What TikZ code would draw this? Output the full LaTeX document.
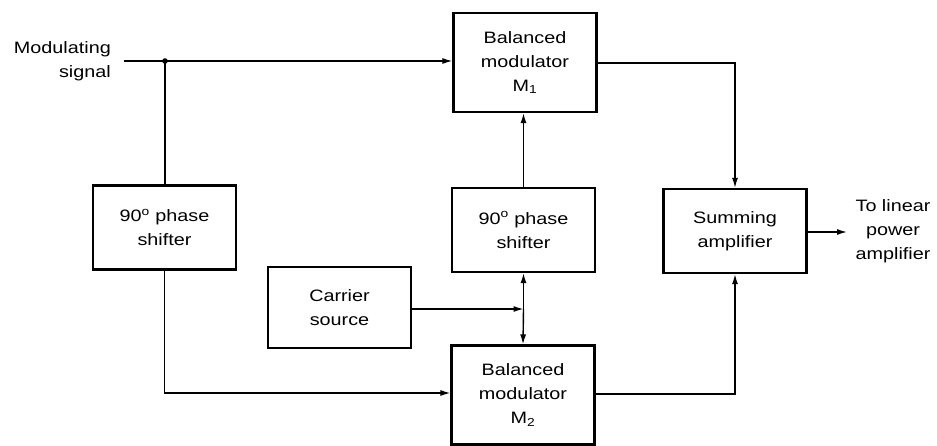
\documentclass[tikz,border=0pt]{standalone}
\usepackage{fontspec}
\setmainfont{Liberation Sans}[FakeStretch=1.2]
\usetikzlibrary{arrows.meta}
\begin{document}
\begin{tikzpicture}[x=1pt,y=-1pt,
  blk/.style={draw,line width=2.2pt,rectangle,minimum width=143pt,minimum height=84pt,inner sep=0pt,align=center,font=\fontsize{16.5}{24}\selectfont},
  lbl/.style={inner sep=0pt,font=\fontsize{16.5}{24}\selectfont},
  wire/.style={line width=1.4pt},
  arr/.style={wire,-{Latex[length=10pt,width=6pt]}}]
\useasboundingbox (0,0) rectangle (937,446);
\node[blk,minimum height=99pt] (bm1) at (525,62.5) {Balanced\\modulator\\M\textsubscript{1}};
\node[blk] (lps) at (164.5,227.5) {90\textsuperscript{o} phase\\shifter};
\node[blk,minimum height=81pt] (car) at (339.5,307.5) {Carrier\\source};
\node[blk] (mps) at (523.5,230) {90\textsuperscript{o} phase\\shifter};
\node[blk,minimum height=99pt] (bm2) at (523,395) {Balanced\\modulator\\M\textsubscript{2}};
\node[blk] (sum) at (735,231) {Summing\\amplifier};
\node[lbl,align=right,anchor=east] (mod) at (111,61) {Modulating\\signal};
\node[lbl,align=center] (out) at (893,231) {To linear\\power\\amplifier};
\coordinate (in) at (124,61);
\coordinate (dot) at (165,61);
\coordinate (j) at (523.5,309);
\coordinate (o) at (847,232);
\fill (dot) circle (2.8pt);
\draw[arr] (in) -- (dot) -- (bm1.west |- dot);
\draw[wire] (dot) -- (dot |- lps.north);
\draw[arr] (lps.south) |- (bm2.west |- 0,393);
\draw[arr] (car.east |- j) -- (j);
\draw[arr] (j) -- (mps.south);
\draw[arr] (j) -- (bm2.north);
\draw[arr] (mps.north) -- (bm1.south -| mps.north);
\draw[arr] (bm1.east |- 0,63) -| (sum.north);
\draw[arr] (bm2.east |- 0,394) -| (sum.south);
\draw[arr] (sum.east |- o) -- (o);
\end{tikzpicture}
\end{document}
